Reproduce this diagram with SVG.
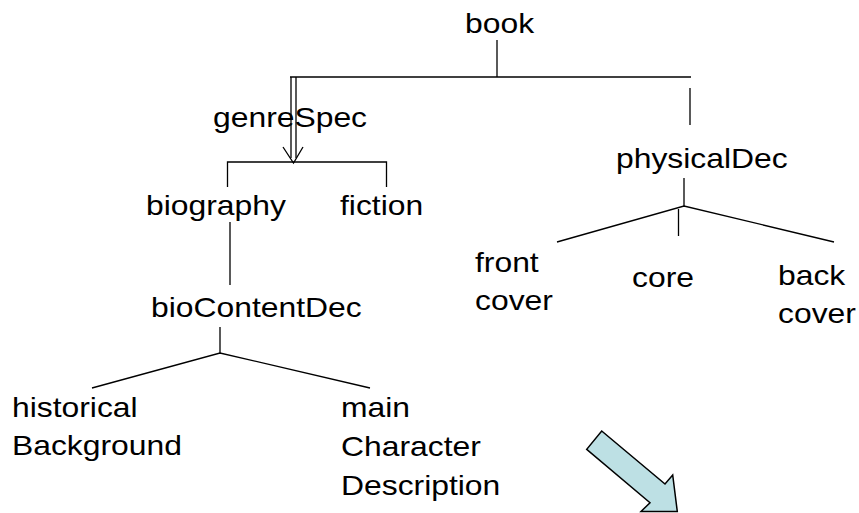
<svg xmlns="http://www.w3.org/2000/svg" width="859" height="513" viewBox="0 0 859 513">
  <style>
    .lbl { font-family: "Liberation Sans", Arial, sans-serif; font-size: 27px; fill: #000; }
    .ln { stroke: #000; stroke-width: 1.3; fill: none; }
    .blk { fill: #bde0e4; stroke: #000; stroke-width: 1.5; stroke-linejoin: miter; }
  </style>
  <rect width="859" height="513" fill="#fff"/>

  <!-- tree connectors -->
  <g id="connectors" class="ln">
    <!-- book -->
    <line x1="497" y1="40" x2="497" y2="77"/>
    <line x1="290" y1="77" x2="691" y2="77"/>
    <line x1="690" y1="88" x2="690" y2="125"/>
    <!-- double-line arrow to genreSpec children -->
    <line x1="291" y1="77" x2="291" y2="158"/>
    <line x1="296" y1="77" x2="296" y2="158"/>
    <polyline points="283,147 293.5,163 303,147"/>
    <!-- genreSpec bracket -->
    <polyline points="227.5,187 227.5,162 386.5,162 386.5,187"/>
    <!-- biography to bioContentDec -->
    <line x1="230" y1="222" x2="230" y2="285"/>
    <!-- bioContentDec fan -->
    <line x1="220" y1="327" x2="220" y2="353"/>
    <polyline points="92,388 220,353 370,388"/>
    <!-- physicalDec fan -->
    <line x1="684" y1="178" x2="684" y2="206"/>
    <polyline points="557,242 684,206 834,242"/>
    <line x1="678.5" y1="209" x2="678.5" y2="236"/>
  </g>

  <g id="n-book"><text class="lbl" transform="translate(465 33) scale(1.18 1)">book</text></g>
  <g id="n-genreSpec"><text class="lbl" transform="translate(213 127) scale(1.18 1)">genreSpec</text></g>
  <g id="n-physicalDec"><text class="lbl" transform="translate(616 168) scale(1.18 1)">physicalDec</text></g>
  <g id="n-biography"><text class="lbl" transform="translate(146 215) scale(1.18 1)">biography</text></g>
  <g id="n-fiction"><text class="lbl" transform="translate(340 215) scale(1.18 1)">fiction</text></g>
  <g id="n-bioContentDec"><text class="lbl" transform="translate(151 317) scale(1.18 1)">bioContentDec</text></g>
  <g id="n-frontCover">
    <text class="lbl" transform="translate(475 272) scale(1.18 1)">front</text>
    <text class="lbl" transform="translate(475 310) scale(1.18 1)">cover</text>
  </g>
  <g id="n-core"><text class="lbl" transform="translate(632 287) scale(1.18 1)">core</text></g>
  <g id="n-backCover">
    <text class="lbl" transform="translate(778 285) scale(1.18 1)">back</text>
    <text class="lbl" transform="translate(778 323) scale(1.18 1)">cover</text>
  </g>
  <g id="n-historicalBackground">
    <text class="lbl" transform="translate(12 417) scale(1.18 1)">historical</text>
    <text class="lbl" transform="translate(12 455) scale(1.18 1)">Background</text>
  </g>
  <g id="n-mainCharacterDescription">
    <text class="lbl" transform="translate(341 417) scale(1.18 1)">main</text>
    <text class="lbl" transform="translate(341 456) scale(1.18 1)">Character</text>
    <text class="lbl" transform="translate(341 495) scale(1.18 1)">Description</text>
  </g>

  <!-- block arrow pointing down-right -->
  <g id="blockArrow">
    <polygon class="blk" points="601.7,431 665,484 672.7,475 677.3,511.5 641,511.5 650,502.7 586.7,449.3"/>
  </g>
</svg>
